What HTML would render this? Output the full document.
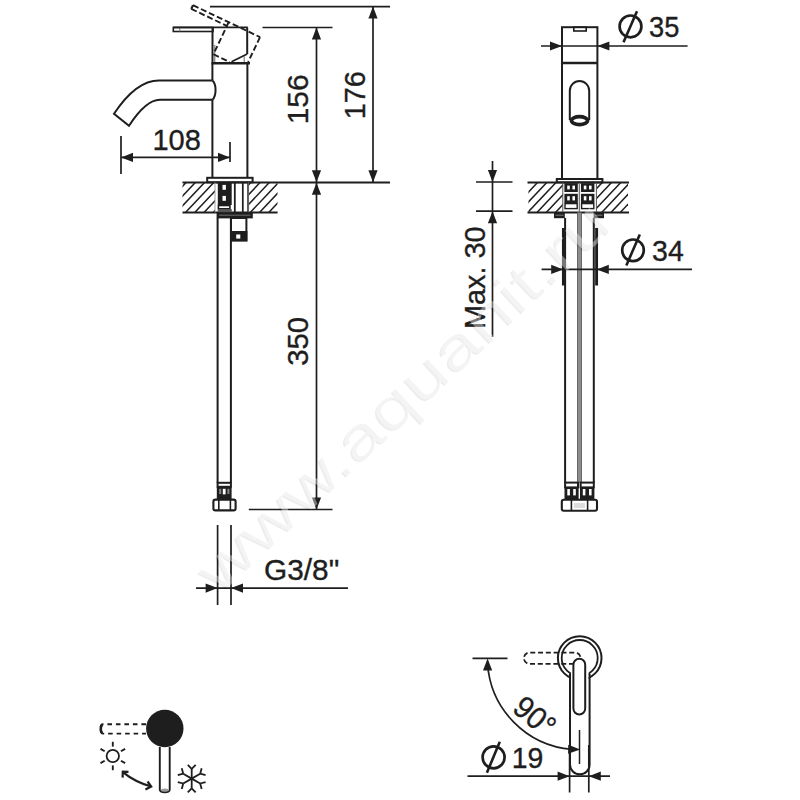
<!DOCTYPE html><html><head><meta charset="utf-8"><title>Tap dimensions</title><style>html,body{margin:0;padding:0;background:#fff;width:800px;height:800px;overflow:hidden}svg{display:block}</style></head><body><svg width="800" height="800" viewBox="0 0 800 800" font-family="Liberation Sans, sans-serif"><rect width="800" height="800" fill="#fff"/><rect x="173.30" y="27.50" width="39.70" height="4.00" rx="0" stroke="#1e1e1e" stroke-width="1.6" fill="none" /><line x1="179.80" y1="27.50" x2="179.80" y2="31.50" stroke="#777" stroke-width="1.0" /><line x1="173.00" y1="27.40" x2="247.80" y2="27.40" stroke="#1e1e1e" stroke-width="1.8" /><line x1="212.50" y1="27.50" x2="212.50" y2="63.00" stroke="#1e1e1e" stroke-width="2.0" /><line x1="247.20" y1="27.50" x2="247.20" y2="54.00" stroke="#1e1e1e" stroke-width="2.0" /><line x1="247.20" y1="54.00" x2="231.50" y2="61.80" stroke="#1e1e1e" stroke-width="1.8" /><line x1="214.80" y1="45.00" x2="214.80" y2="63.00" stroke="#666" stroke-width="1.0" /><line x1="244.20" y1="56.50" x2="244.20" y2="63.00" stroke="#666" stroke-width="1.0" /><line x1="211.50" y1="63.30" x2="250.00" y2="63.30" stroke="#1e1e1e" stroke-width="2.6" /><line x1="212.40" y1="63.00" x2="212.40" y2="80.40" stroke="#1e1e1e" stroke-width="2.0" /><line x1="212.40" y1="99.80" x2="212.40" y2="177.80" stroke="#1e1e1e" stroke-width="2.0" /><line x1="247.40" y1="63.00" x2="247.40" y2="177.80" stroke="#1e1e1e" stroke-width="2.0" /><path d="M212.4,80.4 L159,80.4 C142,80.4 127,94 114,113.8 L129,125.8 C140,109 150,99.8 159.8,99.8 L212.4,99.8" stroke="#1e1e1e" stroke-width="2.0" fill="none" /><path d="M212.4,80.4 C216.6,84 216.6,96 212.4,99.8" stroke="#1e1e1e" stroke-width="2.0" fill="none" /><line x1="193.05" y1="5.20" x2="260.02" y2="37.14" stroke="#1e1e1e" stroke-width="1.9" stroke-dasharray="6 2.8"/><line x1="193.05" y1="5.20" x2="191.28" y2="8.90" stroke="#1e1e1e" stroke-width="2.2" /><line x1="191.28" y1="8.90" x2="227.39" y2="26.12" stroke="#1e1e1e" stroke-width="1.9" stroke-dasharray="6 2.8"/><line x1="228.70" y1="22.21" x2="213.42" y2="54.25" stroke="#1e1e1e" stroke-width="1.9" stroke-dasharray="6 2.8"/><line x1="213.42" y1="54.25" x2="229.67" y2="62.00" stroke="#1e1e1e" stroke-width="1.9" stroke-dasharray="6 2.8"/><line x1="260.02" y1="37.14" x2="248.16" y2="62.00" stroke="#1e1e1e" stroke-width="1.9" stroke-dasharray="6 2.8"/><rect x="207.20" y="177.80" width="45.40" height="4.50" rx="0" stroke="#1e1e1e" stroke-width="2.0" fill="none" /><defs><clipPath id="hc1"><rect x="182.5" y="182.5" width="32.5" height="30.0"/><rect x="248.6" y="182.5" width="28.900000000000006" height="30.0"/></clipPath></defs><g clip-path="url(#hc1)"><line x1="136.42" y1="215.50" x2="170.38" y2="179.50" stroke="#1e1e1e" stroke-width="1.5"/><line x1="145.67" y1="215.50" x2="179.63" y2="179.50" stroke="#1e1e1e" stroke-width="1.5"/><line x1="154.92" y1="215.50" x2="188.88" y2="179.50" stroke="#1e1e1e" stroke-width="1.5"/><line x1="164.17" y1="215.50" x2="198.13" y2="179.50" stroke="#1e1e1e" stroke-width="1.5"/><line x1="173.42" y1="215.50" x2="207.38" y2="179.50" stroke="#1e1e1e" stroke-width="1.5"/><line x1="182.67" y1="215.50" x2="216.63" y2="179.50" stroke="#1e1e1e" stroke-width="1.5"/><line x1="191.92" y1="215.50" x2="225.88" y2="179.50" stroke="#1e1e1e" stroke-width="1.5"/><line x1="201.17" y1="215.50" x2="235.13" y2="179.50" stroke="#1e1e1e" stroke-width="1.5"/><line x1="210.42" y1="215.50" x2="244.38" y2="179.50" stroke="#1e1e1e" stroke-width="1.5"/><line x1="219.67" y1="215.50" x2="253.63" y2="179.50" stroke="#1e1e1e" stroke-width="1.5"/><line x1="228.92" y1="215.50" x2="262.88" y2="179.50" stroke="#1e1e1e" stroke-width="1.5"/><line x1="238.17" y1="215.50" x2="272.13" y2="179.50" stroke="#1e1e1e" stroke-width="1.5"/><line x1="247.42" y1="215.50" x2="281.38" y2="179.50" stroke="#1e1e1e" stroke-width="1.5"/><line x1="256.67" y1="215.50" x2="290.63" y2="179.50" stroke="#1e1e1e" stroke-width="1.5"/><line x1="265.92" y1="215.50" x2="299.88" y2="179.50" stroke="#1e1e1e" stroke-width="1.5"/><line x1="275.17" y1="215.50" x2="309.13" y2="179.50" stroke="#1e1e1e" stroke-width="1.5"/></g><line x1="182.50" y1="182.50" x2="390.00" y2="182.50" stroke="#1e1e1e" stroke-width="2.0" /><line x1="182.50" y1="212.50" x2="277.50" y2="212.50" stroke="#1e1e1e" stroke-width="2.0" /><line x1="215.00" y1="182.50" x2="215.00" y2="212.50" stroke="#999" stroke-width="0.9" /><line x1="248.60" y1="182.50" x2="248.60" y2="212.50" stroke="#999" stroke-width="0.9" /><rect x="217.80" y="183.00" width="13.90" height="22.00" fill="#1e1e1e"/><rect x="222.50" y="184.90" width="3.40" height="4.90" fill="#fff"/><rect x="222.50" y="195.90" width="3.40" height="4.90" fill="#fff"/><rect x="218.40" y="205.50" width="11.50" height="3.30" rx="0" stroke="#1e1e1e" stroke-width="1.6" fill="none" /><rect x="217.80" y="209.00" width="13.90" height="3.50" fill="#555"/><line x1="234.80" y1="182.50" x2="234.80" y2="212.50" stroke="#1e1e1e" stroke-width="1.8" /><line x1="242.80" y1="182.50" x2="242.80" y2="212.50" stroke="#1e1e1e" stroke-width="1.7" /><line x1="247.90" y1="182.50" x2="247.90" y2="212.50" stroke="#333" stroke-width="1.4" /><rect x="216.60" y="212.20" width="36.20" height="6.20" fill="#1e1e1e"/><line x1="219.00" y1="215.20" x2="250.50" y2="215.20" stroke="#777" stroke-width="0.9" /><line x1="217.60" y1="218.00" x2="217.60" y2="482.80" stroke="#1e1e1e" stroke-width="2.0" /><line x1="230.90" y1="218.00" x2="230.90" y2="482.80" stroke="#1e1e1e" stroke-width="2.0" /><rect x="231.00" y="218.00" width="15.40" height="22.40" rx="0" stroke="#1e1e1e" stroke-width="2.0" fill="none" /><rect x="230.00" y="231.00" width="17.40" height="10.40" fill="#1e1e1e"/><rect x="236.20" y="234.50" width="4.10" height="4.10" fill="#fff"/><rect x="217.60" y="482.80" width="13.30" height="4.00" rx="0" stroke="#1e1e1e" stroke-width="2.0" fill="none" /><rect x="216.80" y="486.80" width="14.80" height="12.20" fill="#1e1e1e"/><rect x="222.80" y="488.80" width="2.80" height="5.60" fill="#fff"/><rect x="219.20" y="488.80" width="2.00" height="5.20" fill="#888"/><rect x="227.40" y="488.80" width="2.00" height="5.20" fill="#888"/><rect x="213.40" y="499.60" width="22.20" height="10.80" rx="2" stroke="#1e1e1e" stroke-width="2.1" fill="none" /><line x1="218.80" y1="500.00" x2="218.80" y2="510.00" stroke="#1e1e1e" stroke-width="1.6" /><line x1="230.40" y1="500.00" x2="230.40" y2="510.00" stroke="#1e1e1e" stroke-width="1.6" /><line x1="121.00" y1="136.00" x2="121.00" y2="174.00" stroke="#1e1e1e" stroke-width="1.7" /><line x1="230.00" y1="142.00" x2="230.00" y2="162.00" stroke="#1e1e1e" stroke-width="1.7" /><line x1="121.00" y1="157.40" x2="230.00" y2="157.40" stroke="#1e1e1e" stroke-width="1.7" /><polygon points="121.00,157.40 133.00,152.80 133.00,162.00" fill="#1e1e1e"/><polygon points="230.00,157.40 218.00,162.00 218.00,152.80" fill="#1e1e1e"/><line x1="262.50" y1="27.50" x2="332.50" y2="27.50" stroke="#1e1e1e" stroke-width="1.7" /><line x1="210.00" y1="6.60" x2="390.00" y2="6.60" stroke="#1e1e1e" stroke-width="1.7" /><line x1="316.50" y1="27.50" x2="316.50" y2="509.50" stroke="#1e1e1e" stroke-width="1.7" /><polygon points="316.50,27.50 321.10,39.50 311.90,39.50" fill="#1e1e1e"/><polygon points="316.50,182.20 311.90,170.20 321.10,170.20" fill="#1e1e1e"/><polygon points="316.50,182.80 321.10,194.80 311.90,194.80" fill="#1e1e1e"/><polygon points="316.50,509.50 311.90,497.50 321.10,497.50" fill="#1e1e1e"/><line x1="373.00" y1="6.60" x2="373.00" y2="182.50" stroke="#1e1e1e" stroke-width="1.7" /><polygon points="373.00,6.60 377.60,18.60 368.40,18.60" fill="#1e1e1e"/><polygon points="373.00,182.30 368.40,170.30 377.60,170.30" fill="#1e1e1e"/><line x1="248.80" y1="509.50" x2="332.50" y2="509.50" stroke="#1e1e1e" stroke-width="1.7" /><line x1="217.60" y1="525.00" x2="217.60" y2="605.00" stroke="#1e1e1e" stroke-width="1.7" /><line x1="231.00" y1="525.00" x2="231.00" y2="605.00" stroke="#1e1e1e" stroke-width="1.7" /><line x1="196.00" y1="588.10" x2="348.00" y2="588.10" stroke="#1e1e1e" stroke-width="1.7" /><polygon points="217.60,588.10 205.60,592.70 205.60,583.50" fill="#1e1e1e"/><polygon points="231.00,588.10 243.00,583.50 243.00,592.70" fill="#1e1e1e"/><rect x="562.00" y="27.20" width="35.40" height="151.80" rx="0" stroke="#1e1e1e" stroke-width="2.0" fill="none" /><rect x="573.80" y="27.20" width="12.40" height="3.80" rx="0" stroke="#1e1e1e" stroke-width="1.6" fill="none" /><line x1="562.00" y1="63.00" x2="597.40" y2="63.00" stroke="#1e1e1e" stroke-width="2.6" /><path d="M569.8,120 L569.8,90.7 A9.7,9.7 0 0 1 589.2,90.7 L589.2,120" stroke="#1e1e1e" stroke-width="2.0" fill="none" /><ellipse cx="579.5" cy="120.6" rx="8.1" ry="4.0" stroke="#1e1e1e" stroke-width="3.6" fill="#fff"/><rect x="556.80" y="179.00" width="45.60" height="3.40" rx="0" stroke="#1e1e1e" stroke-width="2.0" fill="none" /><defs><clipPath id="hc2"><rect x="528.4" y="182.6" width="34.39999999999998" height="29.80000000000001"/><rect x="596.4" y="182.6" width="31.600000000000023" height="29.80000000000001"/></clipPath></defs><g clip-path="url(#hc2)"><line x1="487.98" y1="215.40" x2="521.75" y2="179.60" stroke="#1e1e1e" stroke-width="1.5"/><line x1="497.23" y1="215.40" x2="531.00" y2="179.60" stroke="#1e1e1e" stroke-width="1.5"/><line x1="506.48" y1="215.40" x2="540.25" y2="179.60" stroke="#1e1e1e" stroke-width="1.5"/><line x1="515.73" y1="215.40" x2="549.50" y2="179.60" stroke="#1e1e1e" stroke-width="1.5"/><line x1="524.98" y1="215.40" x2="558.75" y2="179.60" stroke="#1e1e1e" stroke-width="1.5"/><line x1="534.23" y1="215.40" x2="568.00" y2="179.60" stroke="#1e1e1e" stroke-width="1.5"/><line x1="543.48" y1="215.40" x2="577.25" y2="179.60" stroke="#1e1e1e" stroke-width="1.5"/><line x1="552.73" y1="215.40" x2="586.50" y2="179.60" stroke="#1e1e1e" stroke-width="1.5"/><line x1="561.98" y1="215.40" x2="595.75" y2="179.60" stroke="#1e1e1e" stroke-width="1.5"/><line x1="571.23" y1="215.40" x2="605.00" y2="179.60" stroke="#1e1e1e" stroke-width="1.5"/><line x1="580.48" y1="215.40" x2="614.25" y2="179.60" stroke="#1e1e1e" stroke-width="1.5"/><line x1="589.73" y1="215.40" x2="623.50" y2="179.60" stroke="#1e1e1e" stroke-width="1.5"/><line x1="598.98" y1="215.40" x2="632.75" y2="179.60" stroke="#1e1e1e" stroke-width="1.5"/><line x1="608.23" y1="215.40" x2="642.00" y2="179.60" stroke="#1e1e1e" stroke-width="1.5"/><line x1="617.48" y1="215.40" x2="651.25" y2="179.60" stroke="#1e1e1e" stroke-width="1.5"/><line x1="626.73" y1="215.40" x2="660.50" y2="179.60" stroke="#1e1e1e" stroke-width="1.5"/></g><line x1="527.50" y1="182.60" x2="629.00" y2="182.60" stroke="#1e1e1e" stroke-width="2.0" /><line x1="527.50" y1="212.40" x2="629.00" y2="212.40" stroke="#1e1e1e" stroke-width="2.0" /><line x1="562.80" y1="182.60" x2="562.80" y2="212.40" stroke="#555" stroke-width="1.0" /><line x1="596.40" y1="182.60" x2="596.40" y2="212.40" stroke="#555" stroke-width="1.0" /><rect x="564.40" y="183.20" width="13.40" height="8.80" fill="#1e1e1e"/><rect x="564.40" y="193.80" width="13.40" height="9.20" fill="#1e1e1e"/><rect x="567.20" y="185.60" width="2.60" height="3.80" fill="#fff"/><rect x="572.40" y="185.60" width="2.60" height="3.80" fill="#fff"/><rect x="567.20" y="196.20" width="2.60" height="4.20" fill="#fff"/><rect x="572.40" y="196.20" width="2.60" height="4.20" fill="#fff"/><rect x="565.00" y="203.60" width="12.20" height="5.00" rx="0" stroke="#1e1e1e" stroke-width="1.4" fill="none" /><rect x="581.00" y="183.20" width="13.40" height="8.80" fill="#1e1e1e"/><rect x="581.00" y="193.80" width="13.40" height="9.20" fill="#1e1e1e"/><rect x="583.80" y="185.60" width="2.60" height="3.80" fill="#fff"/><rect x="589.00" y="185.60" width="2.60" height="3.80" fill="#fff"/><rect x="583.80" y="196.20" width="2.60" height="4.20" fill="#fff"/><rect x="589.00" y="196.20" width="2.60" height="4.20" fill="#fff"/><rect x="581.60" y="203.60" width="12.20" height="5.00" rx="0" stroke="#1e1e1e" stroke-width="1.4" fill="none" /><line x1="579.40" y1="183.00" x2="579.40" y2="212.00" stroke="#777" stroke-width="1.4" /><rect x="554.00" y="212.20" width="10.80" height="6.00" fill="#1e1e1e"/><line x1="555.50" y1="215.20" x2="563.50" y2="215.20" stroke="#888" stroke-width="0.9" /><rect x="593.60" y="212.20" width="10.40" height="6.00" fill="#1e1e1e"/><line x1="595.00" y1="215.20" x2="602.50" y2="215.20" stroke="#888" stroke-width="0.9" /><line x1="565.10" y1="218.00" x2="565.10" y2="483.00" stroke="#1e1e1e" stroke-width="2.0" /><line x1="593.80" y1="218.00" x2="593.80" y2="483.00" stroke="#1e1e1e" stroke-width="2.0" /><line x1="579.50" y1="212.40" x2="579.50" y2="483.00" stroke="#8c8c8c" stroke-width="4.4" /><line x1="577.50" y1="212.40" x2="577.50" y2="483.00" stroke="#555" stroke-width="0.8" /><line x1="581.50" y1="212.40" x2="581.50" y2="483.00" stroke="#555" stroke-width="0.8" /><line x1="563.40" y1="228.00" x2="563.40" y2="285.50" stroke="#1e1e1e" stroke-width="2.9" /><line x1="596.60" y1="228.00" x2="596.60" y2="285.50" stroke="#1e1e1e" stroke-width="2.9" /><rect x="565.10" y="482.60" width="12.90" height="4.80" rx="0" stroke="#1e1e1e" stroke-width="2.0" fill="none" /><rect x="564.50" y="487.40" width="14.10" height="11.80" fill="#1e1e1e"/><rect x="567.30" y="489.00" width="2.60" height="6.40" fill="#fff"/><rect x="573.20" y="489.00" width="2.60" height="6.40" fill="#fff"/><rect x="580.60" y="482.60" width="13.20" height="4.80" rx="0" stroke="#1e1e1e" stroke-width="2.0" fill="none" /><rect x="580.00" y="487.40" width="14.40" height="11.80" fill="#1e1e1e"/><rect x="582.80" y="489.00" width="2.60" height="6.40" fill="#fff"/><rect x="589.00" y="489.00" width="2.60" height="6.40" fill="#fff"/><rect x="561.80" y="499.80" width="35.20" height="11.00" rx="2" stroke="#1e1e1e" stroke-width="2.1" fill="none" /><line x1="571.40" y1="499.80" x2="571.40" y2="510.80" stroke="#1e1e1e" stroke-width="1.6" /><line x1="587.60" y1="499.80" x2="587.60" y2="510.80" stroke="#1e1e1e" stroke-width="1.6" /><rect x="574.00" y="503.00" width="11.00" height="5.00" fill="#ddd"/><line x1="541.00" y1="46.00" x2="687.60" y2="46.00" stroke="#1e1e1e" stroke-width="1.7" /><polygon points="562.00,46.00 550.00,50.60 550.00,41.40" fill="#1e1e1e"/><polygon points="597.40,46.00 609.40,41.40 609.40,50.60" fill="#1e1e1e"/><line x1="541.60" y1="269.40" x2="692.00" y2="269.40" stroke="#1e1e1e" stroke-width="1.7" /><polygon points="563.20,269.40 551.20,274.00 551.20,264.80" fill="#1e1e1e"/><polygon points="596.80,269.40 608.80,264.80 608.80,274.00" fill="#1e1e1e"/><line x1="492.50" y1="161.00" x2="492.50" y2="337.00" stroke="#1e1e1e" stroke-width="1.7" /><line x1="476.00" y1="182.00" x2="512.50" y2="182.00" stroke="#1e1e1e" stroke-width="1.7" /><line x1="476.00" y1="211.20" x2="512.50" y2="211.20" stroke="#1e1e1e" stroke-width="1.7" /><polygon points="492.50,182.00 487.90,170.00 497.10,170.00" fill="#1e1e1e"/><polygon points="492.50,211.20 497.10,223.20 487.90,223.20" fill="#1e1e1e"/><circle cx="579.7" cy="658.0" r="21.8" stroke="#1e1e1e" stroke-width="2.0" fill="none"/><circle cx="579.7" cy="658.0" r="18.0" stroke="#1e1e1e" stroke-width="1.8" fill="none"/><rect x="571.00" y="670.00" width="17.60" height="12.00" fill="#fff"/><path d="M570.0,674 L570.0,764.5 A9.8,9.8 0 0 0 589.6,764.5 L589.6,674" stroke="#1e1e1e" stroke-width="2.0" fill="none" /><path d="M573.4,664.7 A5.9,5.9 0 0 1 585.2,664.7 L585.2,708.5 A5.9,5.9 0 0 1 573.4,708.5 Z" stroke="#1e1e1e" stroke-width="2.0" fill="none" /><path d="M574,663.8 L529.5,663.8 A5.6,5.6 0 0 1 529.5,652.6 L575,652.6 A5.6,5.6 0 0 1 580.6,658.2" stroke="#1e1e1e" stroke-width="1.8" fill="none" stroke-dasharray="5 2.8"/><path d="M487.6,664 A92,92 0 0 0 572,749.4" stroke="#1e1e1e" stroke-width="1.7" fill="none" /><polygon points="487.60,658.60 492.20,670.60 483.00,670.60" fill="#1e1e1e"/><polygon points="580.20,749.60 568.07,753.84 568.34,744.64" fill="#1e1e1e"/><line x1="472.50" y1="658.30" x2="507.50" y2="658.30" stroke="#1e1e1e" stroke-width="1.7" /><line x1="579.50" y1="730.00" x2="579.50" y2="764.00" stroke="#1e1e1e" stroke-width="1.5" /><line x1="569.60" y1="745.00" x2="569.60" y2="792.50" stroke="#1e1e1e" stroke-width="1.7" /><line x1="588.80" y1="745.00" x2="588.80" y2="792.50" stroke="#1e1e1e" stroke-width="1.7" /><line x1="467.50" y1="776.20" x2="610.00" y2="776.20" stroke="#1e1e1e" stroke-width="1.7" /><polygon points="569.60,776.20 557.60,780.80 557.60,771.60" fill="#1e1e1e"/><polygon points="588.80,776.20 600.80,771.60 600.80,780.80" fill="#1e1e1e"/><circle cx="164.8" cy="728.5" r="18.7" fill="#1e1e1e"/><path d="M159.8,747 L159.8,790 A5,2.6 0 0 0 169.7,790 L169.7,747" stroke="#1e1e1e" stroke-width="1.9" fill="none" /><ellipse cx="164.75" cy="790" rx="4" ry="1.6" fill="#999"/><path d="M146,724.2 L103,724.2 A2.6,4.7 0 0 0 103,733.6 L146,733.6" stroke="#1e1e1e" stroke-width="1.9" fill="none" stroke-dasharray="4.6 3.9"/><path d="M102.5,724.8 A2.2,4.2 0 0 0 102.5,733" stroke="#1e1e1e" stroke-width="2.6" fill="none" /><circle cx="112.8" cy="756" r="6.2" stroke="#1e1e1e" stroke-width="1.8" fill="none"/><line x1="112.80" y1="746.60" x2="112.80" y2="741.80" stroke="#1e1e1e" stroke-width="1.9" /><line x1="120.94" y1="751.30" x2="125.10" y2="748.90" stroke="#1e1e1e" stroke-width="1.9" /><line x1="104.66" y1="751.30" x2="100.50" y2="748.90" stroke="#1e1e1e" stroke-width="1.9" /><line x1="104.66" y1="760.70" x2="100.50" y2="763.10" stroke="#1e1e1e" stroke-width="1.9" /><line x1="112.80" y1="765.40" x2="112.80" y2="770.20" stroke="#1e1e1e" stroke-width="1.9" /><line x1="120.94" y1="760.70" x2="125.10" y2="763.10" stroke="#1e1e1e" stroke-width="1.9" /><path d="M123.2,772.4 Q135,782 150.8,786.4" stroke="#1e1e1e" stroke-width="2.2" fill="none" /><path d="M128.5,771.8 L122.8,771.6 L122.6,777.6" stroke="#1e1e1e" stroke-width="2.2" fill="none" /><path d="M147.6,781.5 L151.2,786.6 L145.4,789.4" stroke="#1e1e1e" stroke-width="2.2" fill="none" /><line x1="191.70" y1="778.60" x2="191.70" y2="768.80" stroke="#1e1e1e" stroke-width="1.8" /><line x1="191.70" y1="768.80" x2="195.66" y2="764.84" stroke="#1e1e1e" stroke-width="1.8" /><line x1="191.70" y1="768.80" x2="187.74" y2="764.84" stroke="#1e1e1e" stroke-width="1.8" /><line x1="191.70" y1="778.60" x2="183.21" y2="773.70" stroke="#1e1e1e" stroke-width="1.8" /><line x1="183.21" y1="773.70" x2="181.76" y2="768.29" stroke="#1e1e1e" stroke-width="1.8" /><line x1="183.21" y1="773.70" x2="177.80" y2="775.15" stroke="#1e1e1e" stroke-width="1.8" /><line x1="191.70" y1="778.60" x2="183.21" y2="783.50" stroke="#1e1e1e" stroke-width="1.8" /><line x1="183.21" y1="783.50" x2="177.80" y2="782.05" stroke="#1e1e1e" stroke-width="1.8" /><line x1="183.21" y1="783.50" x2="181.76" y2="788.91" stroke="#1e1e1e" stroke-width="1.8" /><line x1="191.70" y1="778.60" x2="191.70" y2="788.40" stroke="#1e1e1e" stroke-width="1.8" /><line x1="191.70" y1="788.40" x2="187.74" y2="792.36" stroke="#1e1e1e" stroke-width="1.8" /><line x1="191.70" y1="788.40" x2="195.66" y2="792.36" stroke="#1e1e1e" stroke-width="1.8" /><line x1="191.70" y1="778.60" x2="200.19" y2="783.50" stroke="#1e1e1e" stroke-width="1.8" /><line x1="200.19" y1="783.50" x2="201.64" y2="788.91" stroke="#1e1e1e" stroke-width="1.8" /><line x1="200.19" y1="783.50" x2="205.60" y2="782.05" stroke="#1e1e1e" stroke-width="1.8" /><line x1="191.70" y1="778.60" x2="200.19" y2="773.70" stroke="#1e1e1e" stroke-width="1.8" /><line x1="200.19" y1="773.70" x2="205.60" y2="775.15" stroke="#1e1e1e" stroke-width="1.8" /><line x1="200.19" y1="773.70" x2="201.64" y2="768.29" stroke="#1e1e1e" stroke-width="1.8" /><circle cx="630.5" cy="26.4" r="10.9" stroke="#1e1e1e" stroke-width="2.7" fill="none"/><line x1="637.00" y1="11.20" x2="623.50" y2="42.20" stroke="#1e1e1e" stroke-width="2.6" /><circle cx="633" cy="250.3" r="10.8" stroke="#1e1e1e" stroke-width="2.7" fill="none"/><line x1="639.80" y1="234.50" x2="626.30" y2="265.50" stroke="#1e1e1e" stroke-width="2.6" /><circle cx="493.6" cy="757.3" r="11" stroke="#1e1e1e" stroke-width="2.7" fill="none"/><line x1="499.80" y1="741.70" x2="486.90" y2="772.80" stroke="#1e1e1e" stroke-width="2.6" /><text x="152.40" y="149.50" font-size="30.00" textLength="48.49" lengthAdjust="spacingAndGlyphs" fill="#1e1e1e" stroke="#1e1e1e" stroke-width="0.35">108</text><text x="308.40" y="124.30" font-size="30.00" textLength="49.83" lengthAdjust="spacingAndGlyphs" fill="#1e1e1e" stroke="#1e1e1e" stroke-width="0.35" transform="rotate(-90.00 308.40 124.30)">156</text><text x="365.50" y="119.30" font-size="30.00" textLength="48.24" lengthAdjust="spacingAndGlyphs" fill="#1e1e1e" stroke="#1e1e1e" stroke-width="0.35" transform="rotate(-90.00 365.50 119.30)">176</text><text x="308.50" y="365.80" font-size="30.00" textLength="48.94" lengthAdjust="spacingAndGlyphs" fill="#1e1e1e" stroke="#1e1e1e" stroke-width="0.35" transform="rotate(-90.00 308.50 365.80)">350</text><text x="264.00" y="579.90" font-size="30.00" textLength="75.29" lengthAdjust="spacingAndGlyphs" fill="#1e1e1e" stroke="#1e1e1e" stroke-width="0.35">G3/8"</text><text x="649.00" y="37.00" font-size="30.00" textLength="30.32" lengthAdjust="spacingAndGlyphs" fill="#1e1e1e" stroke="#1e1e1e" stroke-width="0.35">35</text><text x="652.10" y="260.60" font-size="30.00" textLength="31.69" lengthAdjust="spacingAndGlyphs" fill="#1e1e1e" stroke="#1e1e1e" stroke-width="0.35">34</text><text x="511.80" y="768.30" font-size="30.00" textLength="31.62" lengthAdjust="spacingAndGlyphs" fill="#1e1e1e" stroke="#1e1e1e" stroke-width="0.35">19</text><text x="485.10" y="328.90" font-size="30.00" textLength="102.50" lengthAdjust="spacingAndGlyphs" fill="#1e1e1e" stroke="#1e1e1e" stroke-width="0.35" transform="rotate(-90.00 485.10 328.90)">Max. 30</text><text x="511.10" y="710.50" font-size="31.38" textLength="43.94" lengthAdjust="spacingAndGlyphs" fill="#1e1e1e" stroke="#1e1e1e" stroke-width="0.35" transform="rotate(40.00 511.10 710.50)">90°</text><text x="401.60" y="397.40" font-size="58.00" textLength="540.00" lengthAdjust="spacingAndGlyphs" text-anchor="middle" dominant-baseline="central" fill="rgba(0,0,0,0.07)"  transform="rotate(-43 401.60 397.40)">www.aquanit.ru</text><text x="403.00" y="396.00" font-size="58.00" textLength="540.00" lengthAdjust="spacingAndGlyphs" text-anchor="middle" dominant-baseline="central" fill="rgba(255,255,255,0.4)"  transform="rotate(-43 403.00 396.00)">www.aquanit.ru</text></svg></body></html>
